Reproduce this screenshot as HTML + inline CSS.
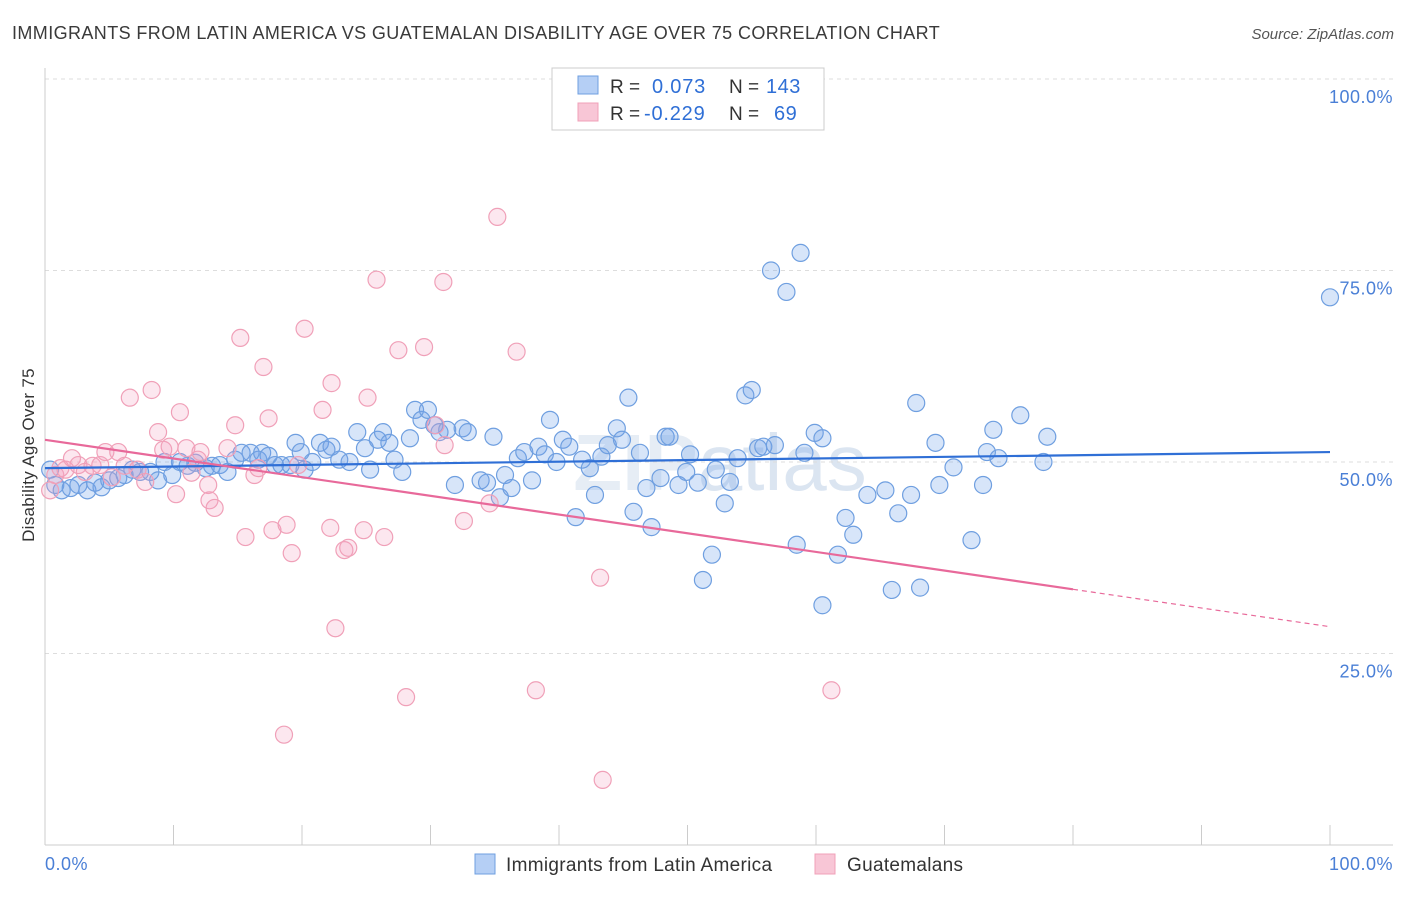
<!DOCTYPE html>
<html><head><meta charset="utf-8"><style>
body{margin:0;background:#fff;font-family:"Liberation Sans",sans-serif}
</style></head><body>
<svg id="chart" width="1406" height="892" xmlns="http://www.w3.org/2000/svg" font-family="Liberation Sans, sans-serif">
<text x="12" y="39" font-size="18" fill="#3a3a3a" letter-spacing="0.4">IMMIGRANTS FROM LATIN AMERICA VS GUATEMALAN DISABILITY AGE OVER 75 CORRELATION CHART</text>
<text x="1394" y="39" font-size="15" fill="#555" font-style="italic" text-anchor="end">Source: ZipAtlas.com</text>
<text x="720" y="490" font-size="80" fill="#e6edf5" text-anchor="middle" font-weight="bold">ZIP<tspan font-weight="normal" fill="#dbe5f1">atlas</tspan></text>
<g id="grid"></g><g id="axes"></g><g id="marks"></g>
<text transform="translate(34,455) rotate(-90)" font-size="17" fill="#333" text-anchor="middle" letter-spacing="0.3">Disability Age Over 75</text>
<text x="45" y="870" font-size="18" fill="#4a7fd6" letter-spacing="0.5">0.0%</text>
<text x="1393" y="870" font-size="18" fill="#4a7fd6" text-anchor="end" letter-spacing="0.5">100.0%</text>
<g>
<rect x="552" y="68" width="272" height="62" fill="#fff" stroke="#ccc"/>
<rect x="578" y="76" width="20" height="18" fill="#b5cff5" stroke="#6f9fe0"/>
<rect x="578" y="103" width="20" height="18" fill="#f8c6d6" stroke="#f0a0b8"/>
<text x="610" y="93" font-size="19" fill="#333">R =</text><text x="652" y="93" font-size="20" fill="#2f6fd6" letter-spacing="0.8">0.073</text>
<text x="729" y="93" font-size="19" fill="#333">N =</text><text x="766" y="93" font-size="20" fill="#2f6fd6" letter-spacing="0.5">143</text>
<text x="610" y="120" font-size="19" fill="#333">R =</text><text x="644" y="120" font-size="20" fill="#2f6fd6" letter-spacing="0.8">-0.229</text>
<text x="729" y="120" font-size="19" fill="#333">N =</text><text x="774" y="120" font-size="20" fill="#2f6fd6" letter-spacing="0.5">69</text>
</g>
<g>
<rect x="475" y="854" width="20" height="20" fill="#b5cff5" stroke="#6f9fe0"/>
<text x="506" y="871" font-size="19" fill="#333" letter-spacing="0.3">Immigrants from Latin America</text>
<rect x="815" y="854" width="20" height="20" fill="#f8c6d6" stroke="#f0a0b8"/>
<text x="847" y="871" font-size="19" fill="#333" letter-spacing="0.3">Guatemalans</text>
</g>
</svg>
<script>
const yTicks=[25,50,75,100];
const yTickLabels=["25.0%","50.0%","75.0%","100.0%"];
const xTicks=[0,10,20,30,40,50,60,70,80,90,100];
const blueX=[0.4,0.8,1.3,2,2.6,3.3,3.9,4.4,5,5.7,6.2,6.8,7.4,8.2,8.8,9.3,9.9,10.5,11.1,11.7,12.5,13,13.6,14.2,14.8,15.3,16,16.6,16.9,17.4,17.9,18.4,19.1,19.5,19.9,20.2,20.8,21.4,21.9,22.3,22.9,23.7,24.3,24.9,25.3,25.9,26.3,26.8,27.2,27.8,28.4,28.8,29.3,29.8,30.3,30.7,31.3,31.9,32.5,32.9,33.9,34.4,34.9,35.4,35.8,36.3,36.8,37.3,37.9,38.4,38.9,39.3,39.8,40.3,40.8,41.3,41.8,42.4,42.8,43.3,43.8,44.5,44.9,45.4,45.8,46.3,46.8,47.2,47.9,48.3,48.6,49.3,49.9,50.2,50.8,51.2,51.9,52.2,52.9,53.3,53.9,54.5,55,55.5,55.9,56.5,56.8,57.7,58.5,58.8,59.1,59.9,60.5,60.5,61.7,62.3,62.9,64,65.4,66.4,65.9,67.4,67.8,68.1,69.6,69.3,70.7,72.1,73,73.3,73.8,74.2,75.9,77.7,78,100];
const blueY=[49,47,46.3,46.6,47,46.3,47.3,46.7,47.6,47.9,48.3,49,48.7,48.7,47.6,50,48.3,50,49.5,49.9,49.2,49.5,49.6,48.7,50.3,51.2,51.2,50.3,51.2,50.8,49.6,49.6,49.6,52.5,51.3,49,50,52.5,51.6,52,50.3,50,53.9,51.8,49,52.9,53.9,52.5,50.3,48.7,53.1,56.8,55.5,56.8,54.8,53.9,54.2,47,54.4,53.9,47.6,47.3,53.3,45.4,48.3,46.6,50.5,51.3,47.6,52,51,55.5,50,52.9,52,42.8,50.3,49.2,45.7,50.7,52.2,54.4,52.9,58.4,43.5,51.2,46.6,41.5,47.9,53.3,53.3,47,48.7,51,47.3,34.6,37.9,49,44.6,47.4,50.5,58.7,59.4,51.8,52,75,52.2,72.2,39.2,77.3,51.2,53.8,53.1,31.3,37.9,42.7,40.5,45.7,46.3,43.3,33.3,45.7,57.7,33.6,47,52.5,49.3,39.8,47,51.3,54.2,50.5,56.1,50,53.3,71.5];
const pinkX=[0.4,0.8,1.2,1.6,2.1,2.6,3.1,3.7,4.3,4.7,5.2,5.7,6.2,6.6,7.2,7.8,8.3,8.8,9.2,9.7,10.2,10.5,11,11.4,11.9,12.1,12.7,12.8,13.2,14.2,14.8,15.2,15.6,16.3,16.6,17,17.4,17.7,18.6,18.8,19.2,19.7,20.2,21.6,22.3,22.2,22.6,23.3,23.6,24.8,25.1,25.8,26.4,27.5,28.1,29.5,30.4,31,31.1,32.6,34.6,35.2,36.7,38.2,43.2,43.4,61.2];
const pinkY=[46.3,48.3,49.2,49,50.5,49.6,48.7,49.5,49.6,51.3,48,51.3,49.5,58.4,49,47.4,59.4,53.9,51.6,52,45.8,56.5,51.8,48.6,50.3,51.3,47,45,44,51.8,54.8,66.2,40.2,48.3,49.2,62.4,55.7,41.1,14.4,41.8,38.1,49.6,67.4,56.8,60.3,41.4,28.3,38.5,38.8,41.1,58.4,73.8,40.2,64.6,19.3,65,54.8,73.5,52.2,42.3,44.6,82,64.4,20.2,34.9,8.5,20.2];
const blueTrend=[49.2,51.3];
const pinkTrend=[52.9,28.5];
const pinkSolidEnd=80;
const NS="http://www.w3.org/2000/svg";
const xs=v=>45+v*12.85, ys=v=>845-v*7.66;
function mk(t,a,p){const e=document.createElementNS(NS,t);for(const k in a)e.setAttribute(k,a[k]);p.appendChild(e);return e;}
const grid=document.getElementById('grid'),axes=document.getElementById('axes'),marks=document.getElementById('marks');
yTicks.forEach((v,i)=>{
 const l=mk('line',{x1:45,x2:1393,y1:ys(v),y2:ys(v),stroke:'#ddd','stroke-dasharray':'4,4'},grid);
 
 
 const t=mk('text',{x:1393,y:ys(v)+24,'font-size':18,fill:'#4a7fd6','text-anchor':'end','letter-spacing':0.5},grid);
 t.textContent=yTickLabels[i];
 
 
});
const ax=mk('line',{x1:45,x2:45,y1:68,y2:845,stroke:'#ccc'},axes);


const bx=mk('line',{x1:45,x2:1393,y1:845,y2:845,stroke:'#ccc'},axes);


xTicks.forEach(v=>{
 const t=mk('line',{x1:xs(v),x2:xs(v),y1:825,y2:845,stroke:'#ccc'},axes);
 
 
});
blueX.forEach((x,i)=>{
 const c=mk('circle',{cx:xs(x),cy:ys(blueY[i]),r:8.5,fill:'rgba(110,160,235,0.28)',stroke:'#6f9fe0','stroke-width':1.2},marks);
 
 
});
pinkX.forEach((x,i)=>{
 const c=mk('circle',{cx:xs(x),cy:ys(pinkY[i]),r:8.5,fill:'rgba(245,160,190,0.25)',stroke:'#f0a0b8','stroke-width':1.2},marks);
 
 
});
const bl=mk('line',{x1:xs(0),y1:ys(blueTrend[0]),x2:xs(100),y2:ys(blueTrend[1]),stroke:'#2f6fd6','stroke-width':2.2},marks);


const pm=pinkTrend[0]+(pinkTrend[1]-pinkTrend[0])*pinkSolidEnd/100;
const pl=mk('line',{x1:xs(0),y1:ys(pinkTrend[0]),x2:xs(pinkSolidEnd),y2:ys(pm),stroke:'#e8699a','stroke-width':2.2},marks);


const pd=mk('line',{x1:xs(pinkSolidEnd),y1:ys(pm),x2:xs(100),y2:ys(pinkTrend[1]),stroke:'#e8699a','stroke-width':1.2,'stroke-dasharray':'5,4'},marks);


</script>
</body></html>
